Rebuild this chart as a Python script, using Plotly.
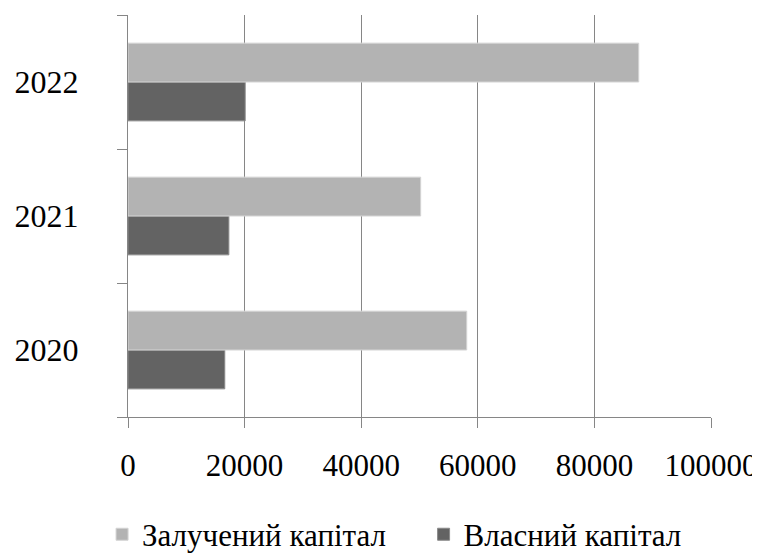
import plotly.graph_objects as go

years = ["2020", "2021", "2022"]
borrowed = [58100, 50200, 87600]   # Залучений капітал
equity = [16600, 17300, 20100]     # Власний капітал
x_ticks = [0, 20000, 40000, 60000, 80000, 100000]

FONT = "Liberation Serif"
GRID = "#868686"

fig = go.Figure()
fig.add_trace(go.Bar(
    y=years, x=equity, orientation="h", name="Власний капітал",
    marker=dict(color="#636363", line=dict(color="#8a8a8a", width=1)),
    legend="legend2",
))
fig.add_trace(go.Bar(
    y=years, x=borrowed, orientation="h", name="Залучений капітал",
    marker=dict(color="#b3b3b3", line=dict(color="#d4d4d4", width=1)),
    legend="legend",
))

leg_common = dict(
    orientation="h", yanchor="middle", y=-0.2925, xanchor="left",
    font=dict(size=31, family=FONT, color="black"),
    itemclick=False, bgcolor="rgba(0,0,0,0)",
)

# page body adds an 8px offset, so the figure is 8px smaller than the window
fig.update_layout(
    width=752, height=546,
    margin=dict(l=120, r=49, t=7, b=137, autoexpand=False),
    paper_bgcolor="white", plot_bgcolor="white",
    barmode="group", bargap=0.42, bargroupgap=0,
    font=dict(family=FONT, size=32, color="black"),
    showlegend=True,
    legend=dict(x=-0.0445, **leg_common),
    legend2=dict(x=0.507, **leg_common),
)
fig.update_xaxes(
    range=[0, 100000], tickvals=x_ticks, ticktext=[str(v) for v in x_ticks],
    showgrid=True, gridcolor=GRID, gridwidth=1,
    showline=True, linecolor=GRID, linewidth=1,
    ticks="outside", ticklen=10, tickcolor=GRID, tickwidth=1,
    zeroline=False, ticklabelstandoff=11, automargin=False,
    tickfont=dict(family=FONT, size=31, color="black"),
)
fig.update_yaxes(
    type="category", categoryorder="array", categoryarray=years,
    showgrid=False, showline=True, linecolor=GRID, linewidth=1,
    ticks="outside", ticklen=10, tickcolor=GRID, tickwidth=1,
    tickson="boundaries", ticklabelstandoff=42, automargin=False,
    tickfont=dict(family=FONT, size=32, color="black"),
)

fig.write_html("out.html")
